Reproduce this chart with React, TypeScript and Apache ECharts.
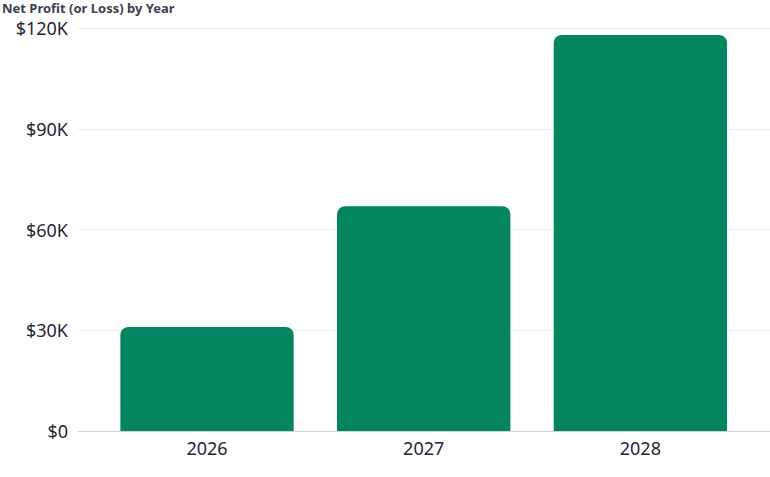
import React, { useEffect, useRef } from 'react'
import * as echarts from 'echarts'

const years = ['2026', '2027', '2028']
const netProfit = [31000, 67000, 118000]
const yTicks = [0, 30000, 60000, 90000, 120000]

const FONT = '"Noto Sans", Lato, sans-serif'

const fmtMoney = (v: number) => (v === 0 ? '$0' : `$${v / 1000}K`)

const App: React.FC = () => {
  const chartRef = useRef<HTMLDivElement>(null)

  useEffect(() => {
    if (!chartRef.current) return
    const chart = echarts.init(chartRef.current, undefined, { renderer: 'svg' })

    const yMax = yTicks[yTicks.length - 1]
    const yStep = yTicks[1] - yTicks[0]

    chart.setOption({
      animation: false,
      backgroundColor: '#ffffff',
      title: {
        text: 'Net Profit (or Loss) by Year',
        left: 0,
        top: 1,
        padding: [0, 2],
        textStyle: {
          fontFamily: FONT,
          fontSize: 13,
          fontWeight: 'bold',
          color: '#3b4150',
        },
      },
      // 两个网格：外层画刻度和网格线，内层画柱子
      grid: [
        { left: 78, right: 0, top: 28.3, bottom: 46 },
        { left: 98.7, right: 21.3, top: 28.3, bottom: 46 },
      ],
      xAxis: [
        {
          gridIndex: 0,
          type: 'category',
          data: years,
          axisLine: { show: true, lineStyle: { color: '#cfd2d6', width: 1 } },
          axisTick: { show: false },
          axisLabel: { show: false },
          splitLine: { show: false },
        },
        {
          gridIndex: 1,
          type: 'category',
          data: years,
          axisLine: { show: false },
          axisTick: { show: false },
          axisLabel: {
            fontFamily: FONT,
            fontSize: 18,
            color: '#1f2535',
            margin: 8,
          },
        },
      ],
      yAxis: [
        {
          gridIndex: 0,
          type: 'value',
          min: 0,
          max: yMax,
          interval: yStep,
          axisLine: { show: false },
          axisTick: { show: false },
          axisLabel: {
            fontFamily: FONT,
            fontSize: 18,
            color: '#1f2535',
            margin: 10,
            formatter: (v: number) => fmtMoney(v),
          },
          splitLine: { lineStyle: { color: '#ececee', width: 1 } },
        },
        {
          gridIndex: 1,
          type: 'value',
          min: 0,
          max: yMax,
          interval: yStep,
          show: false,
          splitLine: { show: false },
        },
      ],
      series: [
        {
          type: 'bar',
          xAxisIndex: 1,
          yAxisIndex: 1,
          data: netProfit,
          barWidth: '80%',
          itemStyle: {
            color: '#038560',
            borderRadius: [8, 8, 0, 0],
          },
        },
      ],
    })

    return () => {
      chart.dispose()
    }
  }, [])

  return (
    <div
      ref={chartRef}
      style={{
        position: 'absolute',
        left: 0,
        top: 0,
        width: 770,
        height: 477,
      }}
    />
  )
}

export default App
